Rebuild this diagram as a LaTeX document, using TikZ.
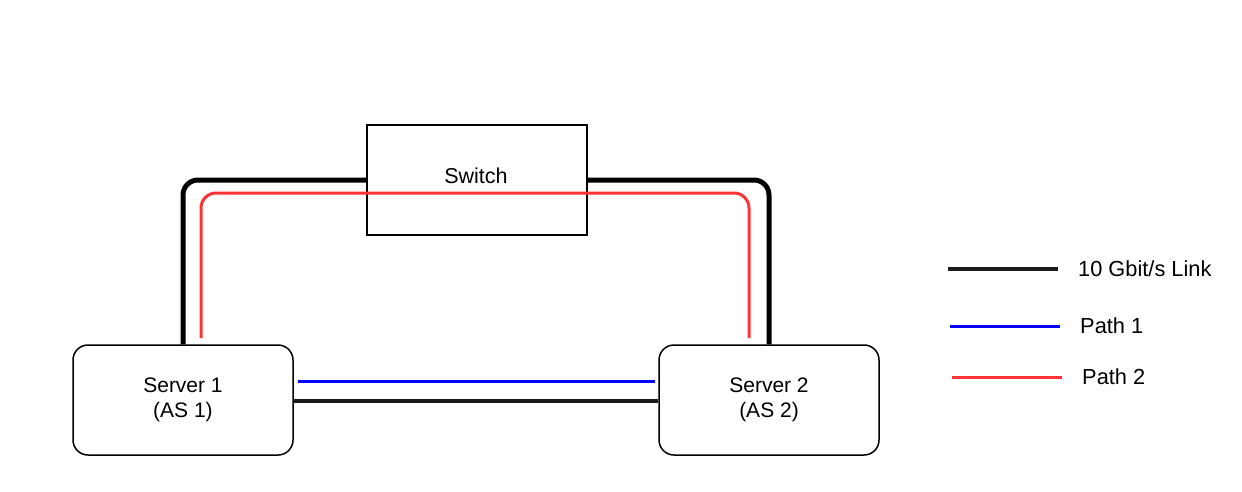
\documentclass[tikz,border=0pt]{standalone}
\usepackage{fontspec}
\setmainfont{Liberation Sans}
\usetikzlibrary{calc}
\definecolor{linkblack}{HTML}{1A1A1A}
\definecolor{pathred}{HTML}{FF3333}
\definecolor{pathblue}{HTML}{0000FF}
\tikzset{
  serverbox/.style={draw, line width=1.5pt, rounded corners=15pt, minimum width=220pt, minimum height=110pt, align=center, font=\fontsize{21}{25}\selectfont, inner sep=0pt},
  switchbox/.style={draw, line width=1.5pt, minimum width=220pt, minimum height=110pt, font=\fontsize{21}{25}\selectfont, inner sep=0pt},
  linkline/.style={draw=black, line width=5pt, rounded corners=15pt},
  linkbottom/.style={draw=linkblack, line width=4.5pt},
  redpath/.style={draw=pathred, line width=3pt, rounded corners=15pt},
  bluepath/.style={draw=pathblue, line width=3pt},
  legtext/.style={anchor=west, font=\fontsize{21.8}{25}\selectfont, inner sep=0pt}
}
\begin{document}
\begin{tikzpicture}[x=1pt,y=-1pt]
\useasboundingbox (0,0) rectangle (1242,492);
% nodes
\node[serverbox] (s1) at (183,400) {Server 1\\(AS 1)};
\node[serverbox] (s2) at (769,400) {Server 2\\(AS 2)};
\node[switchbox] (sw) at (477,180) {};
\node[font=\fontsize{21.5}{25}\selectfont, inner sep=0pt] (swlabel) at (476,176) {Switch};
% links
\draw[linkline] (s1.north) |- (sw.west);
\draw[linkline] (sw.east) -| (s2.north);
\draw[linkbottom] ([yshift=-1pt]s1.east) -- ([yshift=-1pt]s2.west);
% paths
\coordinate (r1) at (201,338);
\coordinate (r2) at (749,338);
\draw[redpath] (r1) |- (477,193) -| (r2);
\draw[bluepath] ($(s1.east)+(4,-19)$) -- ($(s2.west)+(-3,-19)$);
% legend
\coordinate (l1a) at (948,269); \coordinate (l1b) at (1058,269);
\coordinate (l2a) at (950,326); \coordinate (l2b) at (1060,326);
\coordinate (l3a) at (952,377); \coordinate (l3b) at (1062,377);
\draw[linkbottom] (l1a) -- (l1b);
\draw[bluepath] (l2a) -- (l2b);
\draw[draw=pathred, line width=3pt] (l3a) -- (l3b);
\node[legtext] (t1) at (1078,269) {10 Gbit/s Link};
\node[legtext] (t2) at (1080,326) {Path 1};
\node[legtext] (t3) at (1082,377) {Path 2};
\end{tikzpicture}
\end{document}
